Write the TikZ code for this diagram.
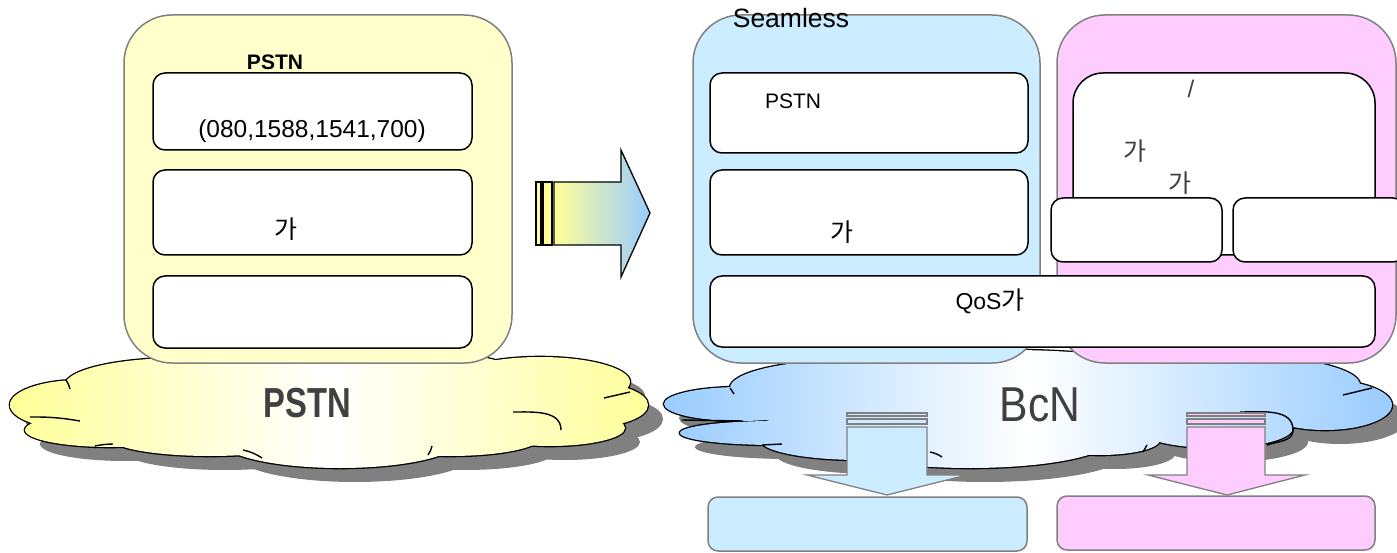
\documentclass[tikz,border=0pt]{standalone}
\usepackage{fontspec}
\setmainfont{Liberation Sans}
\newfontfamily\kr{Noto Sans CJK KR}
\newfontfamily\narrowfont[FakeStretch=0.78]{Liberation Sans}
\newfontfamily\bcnfont[FakeStretch=0.87]{Liberation Sans}
\newcommand\ga{{\kr\fontsize{25}{25}\selectfont 가}}
\definecolor{ylwbox}{HTML}{FFFFCC}
\definecolor{blubox}{HTML}{CCECFF}
\definecolor{pnkbox}{HTML}{FFCCFF}
\definecolor{cloudy}{HTML}{FFFF99}
\definecolor{cloudb}{HTML}{99CCFF}
\definecolor{bordergray}{HTML}{808080}
\definecolor{shadowgray}{HTML}{808080}
\definecolor{darktext}{HTML}{404040}
\begin{document}
\begin{tikzpicture}[x=1pt,y=-1pt,
  bigbox/.style={draw=bordergray, line width=1.5pt, rounded corners=48pt, inner sep=0pt},
  innerbox/.style={draw=black, line width=1.5pt, fill=white, rounded corners=12pt, inner sep=0pt},
  bottombox/.style={draw=bordergray, line width=1.5pt, rounded corners=10pt, inner sep=0pt},
  downarrow/.style={draw=bordergray, line width=1.3pt},
  crease/.style={line width=1.4pt},
  lbl/.style={inner sep=0pt, font=\fontsize{21}{21}\selectfont},
  cloudtext/.style={inner sep=0pt, text=darktext}]
\useasboundingbox (0,0) rectangle (1397,553);

% ---------- yellow cloud (PSTN) ----------
\def\ycloud{80/405/70/25, 110/430/85/17, 180/385/115/27, 370/380/160/32, 540/382/90/25, 590/405/58/22, 550/428/75/18, 340/440/120/28, 210/438/100/18, 450/438/90/18, 330/410/230/30}
\fill[shadowgray] foreach \cx/\cy/\rx/\ry in \ycloud {(\cx+15,\cy+14) ellipse [x radius=\rx, y radius=\ry]};
\draw[line width=2.6pt] foreach \cx/\cy/\rx/\ry in \ycloud {(\cx,\cy) ellipse [x radius=\rx, y radius=\ry]};
\foreach \cx/\cy/\rx/\ry in \ycloud {
  \begin{scope}
    \clip (\cx,\cy) ellipse [x radius=\rx, y radius=\ry];
    \shade[left color=cloudy, right color=cloudy, middle color=white] (10,340) rectangle (650,475);
  \end{scope}
}
% inner cloud creases
\draw[crease] (66,380) to[bend left=10] (70,389);
\draw[crease] (30,417) to[bend left=5] (80,421);
\draw[crease] (95,446) to[bend left=5] (113,444);
\draw[crease] (243,450) to[bend left=10] (262,458);
\draw[crease] (432,446) to[bend left=10] (428,455);
\draw[crease] (513,412) to[out=0,in=90] (561,430);
\draw[crease] (604,398) -- (630,392);

% ---------- blue cloud (BcN) ----------
\def\bcloud{740/404/76/17, 775/433/95/12, 850/388/120/28, 1010/380/170/30, 1230/385/130/30, 1325/405/67/25, 1215/428/78/20, 970/440/140/28, 860/440/100/20, 1100/440/60/15, 1030/410/280/30}
\fill[shadowgray] foreach \cx/\cy/\rx/\ry in \bcloud {(\cx+15,\cy+14) ellipse [x radius=\rx, y radius=\ry]};
\draw[line width=2.6pt] foreach \cx/\cy/\rx/\ry in \bcloud {(\cx,\cy) ellipse [x radius=\rx, y radius=\ry]};
\foreach \cx/\cy/\rx/\ry in \bcloud {
  \begin{scope}
    \clip (\cx,\cy) ellipse [x radius=\rx, y radius=\ry];
    \shade[left color=cloudb, right color=cloudb, middle color=white] (664,340) rectangle (1394,475);
  \end{scope}
}
\draw[crease] (730,388) to[bend left=10] (734,394);
\draw[crease] (682,420) -- (743,421);
\draw[crease] (762,445) -- (782,444);
\draw[crease] (930,452) to[bend left=10] (942,457);
\draw[crease] (1240,412) to[out=0,in=90] (1293,430) to[out=-90,in=20] (1267,445);
\draw[crease] (1147,445) -- (1143,452);
\draw[crease] (1343,395) -- (1372,388);

\node[cloudtext, font=\narrowfont\bfseries\fontsize{42}{42}\selectfont] (pstncloud) at (307,403) {PSTN};
\node[cloudtext, font=\bcnfont\fontsize{49}{49}\selectfont] (bcncloud) at (1040,405) {BcN};

% ---------- big boxes ----------
\node[bigbox, fill=ylwbox, minimum width=388pt, minimum height=348pt] (ybox) at (318,189) {};
\node[bigbox, fill=blubox, minimum width=347pt, minimum height=348pt] (bbox) at (866.5,189) {};
\node[bigbox, fill=pnkbox, minimum width=339pt, minimum height=348pt] (pbox) at (1226.5,189) {};

% yellow inner boxes
\node[innerbox, minimum width=319pt, minimum height=77pt] (y1) at (312.5,111.5) {};
\node[innerbox, minimum width=319pt, minimum height=85pt] (y2) at (312.5,212.5) {};
\node[innerbox, minimum width=319pt, minimum height=72pt] (y3) at (312.5,312) {};
\node[lbl, font=\bfseries\fontsize{21}{21}\selectfont] (ytitle) at (275,62) {PSTN};
\node[lbl, font=\fontsize{24.5}{24.5}\selectfont] (ynum) at (312,131) {(080,1588,1541,700)};
\node[lbl] (yga) at (286,229) {\ga};

% blue inner boxes
\node[innerbox, minimum width=318pt, minimum height=80pt] (b1) at (869,113) {};
\node[innerbox, minimum width=318pt, minimum height=85pt] (b2) at (869,212.5) {};
\node[lbl, font=\fontsize{26.5}{26.5}\selectfont] (seam) at (791,18) {Seamless};
\node[lbl] (bpstn) at (793,101) {PSTN};
\node[lbl] (bga) at (842,232) {\ga};

% pink inner boxes
\node[innerbox, rounded corners=30pt, minimum width=302pt, minimum height=182pt] (p1) at (1224,164) {};
\node[innerbox, minimum width=171pt, minimum height=64pt] (p2) at (1136.5,230) {};
\node[innerbox, minimum width=172pt, minimum height=64pt] (p3) at (1319,230) {};
\node[lbl, text=darktext, font=\fontsize{24}{24}\selectfont] (pslash) at (1191,89) {/};
\node[lbl, text=darktext] (pga1) at (1135,151) {\ga};
\node[lbl, text=darktext] (pga2) at (1180,183) {\ga};

% QoS box
\node[innerbox, minimum width=665pt, minimum height=71pt] (qos) at (1042.5,311.5) {};
\node[lbl, font=\fontsize{23}{23}\selectfont] (qostext) at (990,301) {QoS\ga};

% ---------- right arrow ----------
\draw[line width=1.3pt, fill=cloudy] (536,182) rectangle (541,245);
\draw[line width=1.3pt, fill=cloudy] (543,182) rectangle (552,245);
\shadedraw[line width=1.3pt, left color=cloudy, right color=cloudb]
  (554,182) -- (621,182) -- (621,150) -- (650,213) -- (621,277) -- (621,245) -- (554,245) -- cycle;

% ---------- down arrows ----------
\draw[downarrow, fill=blubox] (847,413) rectangle (927,416);
\draw[downarrow, fill=blubox] (847,419) rectangle (927,424);
\draw[downarrow, fill=blubox] (847,427) -- (847,475) -- (807,475) -- (887,495) -- (967,475) -- (927,475) -- (927,427) -- cycle;
\draw[downarrow, fill=pnkbox] (1187,413) rectangle (1265,416);
\draw[downarrow, fill=pnkbox] (1187,419) rectangle (1265,424);
\draw[downarrow, fill=pnkbox] (1187,427) -- (1187,475) -- (1148,475) -- (1227,495) -- (1305,475) -- (1265,475) -- (1265,427) -- cycle;

% ---------- bottom boxes ----------
\node[bottombox, fill=blubox, minimum width=319pt, minimum height=54pt] (bout) at (867.5,524) {};
\node[bottombox, fill=pnkbox, minimum width=318pt, minimum height=54pt] (pout) at (1216,523) {};
\end{tikzpicture}
\end{document}
